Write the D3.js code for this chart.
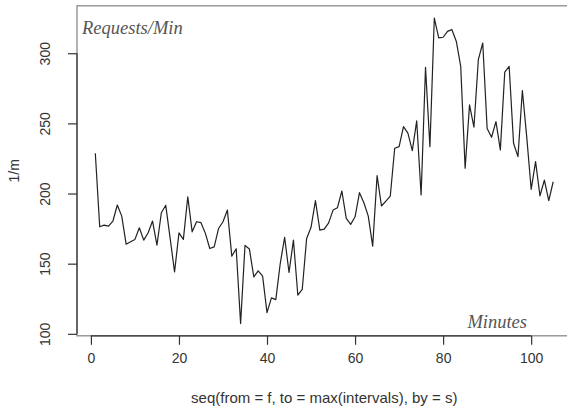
<!DOCTYPE html>
<meta charset="utf-8">
<script src="https://d3js.org/d3.v7.min.js"></script>
<style>
  body { margin: 0; background: #fff; }
  svg { display: block; font-family: "Liberation Sans", Arial, sans-serif; }
</style>
<div id="chart"></div>
<script>

// requests per minute, one value per minute (seq from 1 by 1)
const requests = [
  228.7, 176.3, 177.5, 176.8, 180.4, 191.8, 183.9, 163.9, 165.6, 167.3,
  175.6, 166.8, 172.0, 180.4, 163.2, 186.3, 191.6, 168.0, 144.1, 172.0,
  167.3, 197.7, 172.7, 179.9, 179.2, 171.6, 160.8, 162.0, 175.1, 179.9,
  188.2, 155.4, 160.6, 107.3, 163.0, 160.4, 140.6, 144.9, 141.1, 115.1,
  125.6, 124.4, 150.1, 168.7, 143.7, 166.8, 127.5, 131.6, 168.0, 175.9,
  194.9, 173.9, 174.6, 179.1, 188.2, 189.9, 201.8, 182.3, 178.0, 183.4,
  200.6, 193.4, 183.9, 162.5, 212.7, 191.1, 194.6, 198.2, 232.3, 233.4,
  247.7, 243.0, 230.6, 251.8, 199.0, 289.9, 233.4, 325.1, 310.9, 311.4,
  315.6, 316.8, 308.4, 290.6, 218.0, 263.2, 247.3, 295.4, 307.3, 246.4,
  240.1, 251.3, 231.1, 286.6, 290.6, 235.8, 226.3, 273.4, 240.0, 203.0,
  222.7, 198.4, 209.6, 194.9, 208.4
];
const minutes = requests.map((d, i) => i + 1);

const xTicks = [0, 20, 40, 60, 80, 100];
const yTicks = [100, 150, 200, 250, 300];

const xTitle = "seq(from = f, to = max(intervals), by = s)";
const yTitle = "1/m";
const topNote = "Requests/Min";
const bottomNote = "Minutes";

const W = 567, H = 414;
const plot = {left: 77, top: 5.8, right: 571.5, bottom: 335.8};

// R style 4% padding on the data range
function pad(ext) {
  const r = ext[1] - ext[0];
  return [ext[0] - 0.04 * r, ext[1] + 0.04 * r];
}

const x = d3.scaleLinear().domain(pad(d3.extent(minutes))).range([plot.left, plot.right]);
const y = d3.scaleLinear().domain(pad(d3.extent(requests))).range([plot.bottom, plot.top]);

const svg = d3.select("#chart").append("svg")
  .attr("width", W)
  .attr("height", H);

// plot box
svg.append("rect")
  .attr("x", plot.left)
  .attr("y", plot.top)
  .attr("width", plot.right - plot.left)
  .attr("height", plot.bottom - plot.top)
  .attr("fill", "none")
  .attr("stroke", "#8a8a8a")
  .attr("stroke-width", 1.3);

// x axis
const gx = svg.append("g")
  .attr("transform", `translate(0,${plot.bottom})`)
  .call(d3.axisBottom(x).tickValues(xTicks).tickSize(9).tickPadding(8).tickSizeOuter(0));
gx.select(".domain").remove();
gx.append("line")
  .attr("x1", x(xTicks[0])).attr("x2", x(xTicks[xTicks.length - 1]))
  .attr("stroke", "#333").attr("stroke-width", 1.2);

// y axis
const gy = svg.append("g")
  .attr("transform", `translate(${plot.left},0)`)
  .call(d3.axisLeft(y).tickValues(yTicks).tickSize(9).tickSizeOuter(0));
gy.select(".domain").remove();
gy.append("line")
  .attr("y1", y(yTicks[0])).attr("y2", y(yTicks[yTicks.length - 1]))
  .attr("stroke", "#333").attr("stroke-width", 1.2);
gy.selectAll(".tick text")
  .attr("x", 0).attr("y", 0).attr("dy", 0)
  .attr("text-anchor", "middle")
  .attr("transform", "translate(-27,0) rotate(-90)");

svg.selectAll(".tick line").attr("stroke", "#333").attr("stroke-width", 1.2);
svg.selectAll(".tick text")
  .attr("fill", "#333")
  .style("font-size", "14px")
  .style("font-family", "'Liberation Sans', Arial, sans-serif");

// axis titles
svg.append("text")
  .attr("x", (plot.left + plot.right) / 2)
  .attr("y", 403)
  .attr("text-anchor", "middle")
  .attr("fill", "#333")
  .style("font-size", "15px")
  .text(xTitle);

svg.append("text")
  .attr("transform", `translate(19,${(plot.top + plot.bottom) / 2}) rotate(-90)`)
  .attr("text-anchor", "middle")
  .attr("fill", "#333")
  .style("font-size", "14px")
  .text(yTitle);

// the series
const line = d3.line()
  .x((d, i) => x(minutes[i]))
  .y(d => y(d));

svg.append("path")
  .datum(requests)
  .attr("d", line)
  .attr("fill", "none")
  .attr("stroke", "#222")
  .attr("stroke-width", 1.2)
  .attr("stroke-linejoin", "round");

// notes in the corners
svg.append("text")
  .attr("x", 82)
  .attr("y", 34)
  .attr("fill", "#555")
  .style("font-family", "'Liberation Serif', 'DejaVu Serif', serif")
  .style("font-style", "italic")
  .style("font-size", "18.5px")
  .text(topNote);

svg.append("text")
  .attr("x", 527)
  .attr("y", 328)
  .attr("text-anchor", "end")
  .attr("fill", "#555")
  .style("font-family", "'Liberation Serif', 'DejaVu Serif', serif")
  .style("font-style", "italic")
  .style("font-size", "18.5px")
  .text(bottomNote);

</script>
